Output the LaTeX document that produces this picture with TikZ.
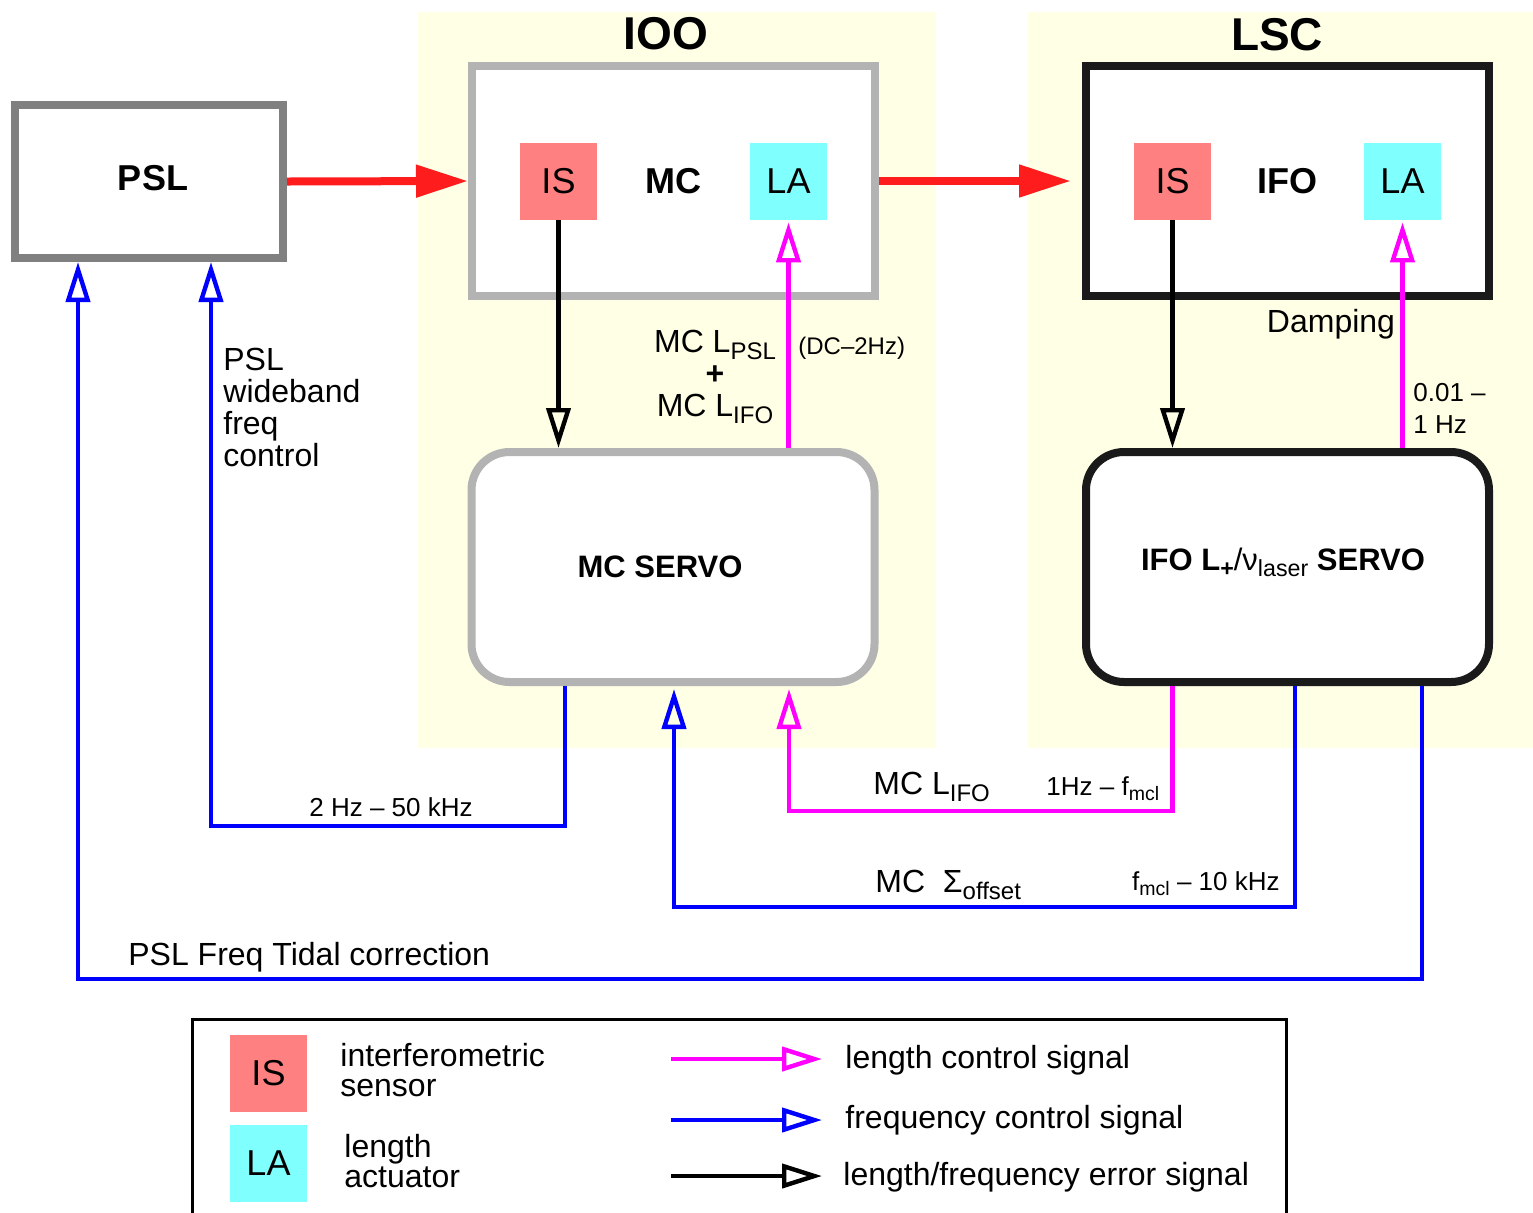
\documentclass[tikz,border=0pt]{standalone}
\usepackage{fontspec}
\setmainfont{Liberation Sans}
\usetikzlibrary{arrows.meta}
\definecolor{bgyellow}{HTML}{FFFFE6}
\definecolor{pslgray}{HTML}{808080}
\definecolor{mcgray}{HTML}{B3B3B3}
\definecolor{ifoblack}{HTML}{1A1A1A}
\definecolor{isred}{HTML}{FF8080}
\definecolor{lacyan}{HTML}{80FFFF}
\definecolor{beamred}{HTML}{FF1C1C}
\definecolor{sigmag}{HTML}{FF00FF}
\definecolor{sigblue}{HTML}{0000FF}
\newcommand\lowsub[1]{\raisebox{-0.22em}{\scalebox{0.75}{#1}}}
\begin{document}
\begin{tikzpicture}[x=0.5pt, y=-0.5pt,
  txt/.style={inner sep=0pt, font=\fontsize{16}{16}\selectfont},
  small/.style={inner sep=0pt, font=\fontsize{13}{16}\selectfont},
  title/.style={inner sep=0pt, font=\fontsize{23}{26}\selectfont\bfseries},
  unit/.style={draw, line width=4pt, fill=white, minimum width=201.5pt, minimum height=115pt, font=\fontsize{18}{20}\selectfont\bfseries},
  servo/.style={unit, rounded corners=19pt},
  servolabel/.style={inner sep=0pt, font=\fontsize{15.5}{18}\selectfont\bfseries},
  sensor/.style={fill=isred, minimum size=38.5pt, inner sep=0pt, font=\fontsize{18}{20}\selectfont},
  actuator/.style={sensor, fill=lacyan},
  beam/.style={draw=beamred, line width=4pt, -{Triangle[length=26pt, width=15.5pt]}},
  sig/.style={line width=2.2pt, -{Triangle[open, length=20pt, width=12pt]}},
  lensig/.style={sig, draw=sigmag},
  freqsig/.style={sig, draw=sigblue},
  errsig/.style={sig, draw=black}]
\useasboundingbox (0,0) rectangle (1533,1212);

% subsystem backgrounds
\fill[bgyellow] (418,12) rectangle (936,748);
\fill[bgyellow] (1028,12) rectangle (1533,748);
\node[title, anchor=base] (ioo) at (666,49) {IOO};
\node[title, anchor=base] (lsc) at (1277,50) {LSC};

% optical units
\node[unit, draw=pslgray, minimum width=134pt, minimum height=76.5pt] (psl) at (149,181.5) {};
\node[unit, draw=mcgray] (mc) at (673.5,181) {MC};
\node[unit, draw=ifoblack] (ifo) at (1287.5,181) {IFO};
\node[inner sep=0pt, font=\fontsize{18}{20}\selectfont\bfseries, anchor=base] (psltxt) at (153,190) {PSL};
\node[sensor] (mcis) at (558.5,181.5) {IS};
\node[actuator] (mcla) at (788.5,181.5) {LA};
\node[sensor] (ifois) at (1172.5,181.5) {IS};
\node[actuator] (ifola) at (1402.5,181.5) {LA};

% servos
\node[servo, draw=mcgray] (mcservo) at (673,567) {};
\node[servolabel, anchor=base] (mcservotxt) at (660,577) {MC SERVO};
\node[servo, draw=ifoblack] (ifoservo) at (1287.5,567) {};
\node[servolabel, anchor=base] (ifoservotxt) at (1283,570)
  {IFO L\lowsub{+}\mdseries/ν\lowsub{laser} \bfseries SERVO};

% beam
\draw[beam] (psl.east) -- (mc.west);
\draw[beam, shorten >=5.5pt] (mc.east) -- (ifo.west);

% local loops
\draw[errsig] (mcis.south) -- (mcis.south |- mcservo.north);
\draw[lensig, shorten >=1pt] (mcservo.north -| mcla) -- (mcla.south);
\draw[errsig] (ifois.south) -- (ifois.south |- ifoservo.north);
\draw[lensig, shorten >=1pt] (ifoservo.north -| ifola) -- (ifola.south);

\node[txt, align=center, anchor=north] (mclsum) at (715,330)
  {MC L\lowsub{PSL}\\\textbf{+}\\MC L\lowsub{IFO}};
\node[inner sep=0pt, font=\fontsize{12}{14}\selectfont, anchor=base west] (dc2hz) at (798,354) {(DC–2Hz)};
\node[txt, anchor=base] (damp) at (1331,332) {Damping};
\node[small, align=left, anchor=north west] (dampband) at (1413,383) {0.01 –\\1 Hz};
\node[txt, align=left, anchor=north west] (wbtxt) at (223,348) {PSL\\ wideband\\ freq\\ control};

% feedback paths
\coordinate (wbA) at (565,826);
\coordinate (wbB) at (211,826);
\coordinate (lifo) at (789,811);
\coordinate (offA) at (1295,907);
\coordinate (offB) at (674,907);
\coordinate (tidA) at (1422,979);
\coordinate (tidB) at (78,979);
\draw[freqsig] (mcservo.south -| wbA) -- (wbA) -- (wbB) -- (wbB |- psl.south);
\draw[lensig, shorten >=1.5pt] (ifoservo.south -| ifois) |- (lifo) -- (lifo |- mcservo.south);
\draw[freqsig, shorten >=1.5pt] (ifoservo.south -| offA) -- (offA) -- (offB) -- (offB |- mcservo.south);
\draw[freqsig] (ifoservo.south -| tidA) -- (tidA) -- (tidB) -- (tidB |- psl.south);

\node[small, anchor=base] (wbband) at (391,816) {2 Hz – 50 kHz};
\node[txt, anchor=base west] (lifotxt) at (873,794) {MC L\lowsub{IFO}};
\node[small, anchor=base west] (lifoband) at (1046,795) {1Hz – f\lowsub{mcl}};
\node[txt, anchor=base west] (offtxt) at (875,892) {MC\ \ Σ\lowsub{offset}};
\node[small, anchor=base east] (offband) at (1280,890) {f\lowsub{mcl} – 10 kHz};
\node[txt, anchor=base west] (tidtxt) at (128,965) {PSL Freq Tidal correction};

% legend
\draw[line width=1.5pt] (192,1214) |- (1286,1019) -- (1286,1214);
\node[sensor] (keyis) at (268.5,1073.5) {IS};
\node[actuator] (keyla) at (268.5,1163.5) {LA};
\node[inner sep=0pt, font=\fontsize{16}{15}\selectfont, align=left, anchor=north west] (keyistxt) at (340,1043) {interferometric\\sensor};
\node[inner sep=0pt, font=\fontsize{16}{15}\selectfont, align=left, anchor=north west] (keylatxt) at (344,1134) {length\\actuator};
\node[txt, anchor=base west] (keylen) at (845,1068) {length control signal};
\node[txt, anchor=base west] (keyfreq) at (845,1128) {frequency control signal};
\node[txt, anchor=base west] (keyerr) at (843,1185) {length/frequency error signal};
\coordinate (keyA) at (671,1059);
\coordinate (keyB) at (671,1120);
\coordinate (keyC) at (671,1176);
\draw[lensig, shorten >=11.5pt] (keyA) -- (keyA -| keylen.west);
\draw[freqsig, shorten >=11.5pt] (keyB) -- (keyB -| keyfreq.west);
\draw[errsig, shorten >=10.5pt] (keyC) -- (keyC -| keyerr.west);
\end{tikzpicture}
\end{document}
